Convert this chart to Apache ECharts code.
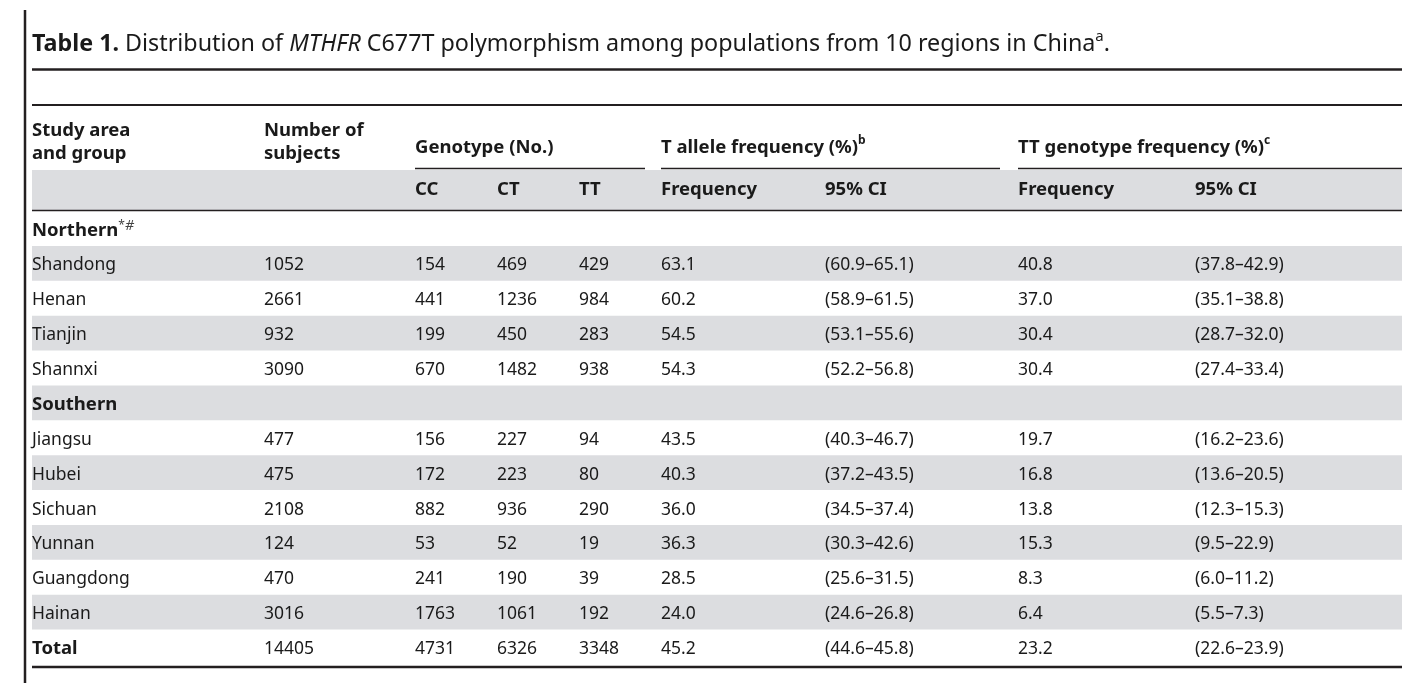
<!DOCTYPE html>
<html>
<head>
<meta charset="utf-8">
<script src="https://cdn.jsdelivr.net/npm/echarts@6/dist/echarts.min.js"></script>
<style>
html, body { margin: 0; padding: 0; background: #fff; }
#main { width: 1423px; height: 683px; }
</style>
</head>
<body>
<div id="main"></div>
<script>
// table data
var regions = ['Northern', 'Shandong', 'Henan', 'Tianjin', 'Shannxi', 'Southern', 'Jiangsu', 'Hubei', 'Sichuan', 'Yunnan', 'Guangdong', 'Hainan', 'Total'];
var subjects = [null, 1052, 2661, 932, 3090, null, 477, 475, 2108, 124, 470, 3016, 14405];
var ccNo = [null, 154, 441, 199, 670, null, 156, 172, 882, 53, 241, 1763, 4731];
var ctNo = [null, 469, 1236, 450, 1482, null, 227, 223, 936, 52, 190, 1061, 6326];
var ttNo = [null, 429, 984, 283, 938, null, 94, 80, 290, 19, 39, 192, 3348];
var tFreq = [null, '63.1', '60.2', '54.5', '54.3', null, '43.5', '40.3', '36.0', '36.3', '28.5', '24.0', '45.2'];
var tCI = [null, '(60.9–65.1)', '(58.9–61.5)', '(53.1–55.6)', '(52.2–56.8)', null, '(40.3–46.7)', '(37.2–43.5)', '(34.5–37.4)', '(30.3–42.6)', '(25.6–31.5)', '(24.6–26.8)', '(44.6–45.8)'];
var ttFreq = [null, '40.8', '37.0', '30.4', '30.4', null, '19.7', '16.8', '13.8', '15.3', '8.3', '6.4', '23.2'];
var ttCI = [null, '(37.8–42.9)', '(35.1–38.8)', '(28.7–32.0)', '(27.4–33.4)', null, '(16.2–23.6)', '(13.6–20.5)', '(12.3–15.3)', '(9.5–22.9)', '(6.0–11.2)', '(5.5–7.3)', '(22.6–23.9)'];
var boldRows = ['Northern', 'Southern', 'Total'];
var subHeads = ['CC', 'CT', 'TT', 'Frequency', '95% CI', 'Frequency', '95% CI'];

var chartDom = document.getElementById('main');
var myChart = echarts.init(chartDom);

var FONT = '"Noto Sans", "Open Sans", sans-serif';
var INK = '#1a1a1a';
var BAND = '#dcdde0';
var colX = [32, 264, 415, 497, 579, 661, 825, 1018, 1195]; // left edge of each column
var tableL = 32, tableR = 1402;
var dy = 2; // nudge so cap height sits on the row centre
var BODY = '17.5px ';
var HEAD = 'bold 18.5px ';

var columns = [subjects, ccNo, ctNo, ttNo, tFreq, tCI, ttFreq, ttCI];

function renderRow(params, api) { //one table row
    var idx = api.value(1);
    var c = api.coord([0, idx]);
    var h = api.size([0, 1])[1];
    var kids = [];
    if (idx % 2 == 1) {
        kids.push({
            type: 'rect',
            shape: { x: tableL, y: c[1] - h / 2, width: tableR - tableL, height: h },
            style: { fill: BAND }
        });
    }
    var name = regions[idx];
    var isBold = boldRows.indexOf(name) >= 0;
    kids.push({
        type: 'text',
        x: colX[0], y: c[1] + dy,
        style: {
            text: name == 'Northern' ? '{b|Northern}{s|*}{h|#}' : name,
            font: (isBold ? HEAD : BODY) + FONT,
            fill: INK, verticalAlign: 'middle',
            rich: {
                b: { fontWeight: 'bold', fontSize: 18.5, fontFamily: FONT, lineHeight: 22 },
                s: { fontSize: 12, fontFamily: FONT, lineHeight: 12, verticalAlign: 'top', fill: '#444' },
                h: { fontSize: 14, fontStyle: 'italic', fontFamily: FONT, lineHeight: 14, verticalAlign: 'top', fill: '#444' }
            }
        }
    });
    for (var j = 0; j < columns.length; j++) {
        var v = columns[j][idx];
        if (v == null) continue;
        kids.push({
            type: 'text',
            x: colX[j + 1], y: c[1] + dy,
            style: { text: String(v), font: BODY + FONT, fill: INK, verticalAlign: 'middle' }
        });
    }
    return { type: 'group', children: kids };
}

function hText(x, y, t, extra) {
    var o = {
        type: 'text', x: x, y: y + dy,
        style: { text: t, font: HEAD + FONT, fill: INK, verticalAlign: 'middle' }
    };
    if (extra) o.style.rich = extra;
    return o;
}
function hLine(x1, x2, y, w) {
    return { type: 'line', shape: { x1: x1, y1: y, x2: x2, y2: y }, style: { stroke: '#231f20', lineWidth: w } };
}

var supRich = {
    m: { fontWeight: 'bold', fontSize: 18.5, fontFamily: FONT, lineHeight: 26 },
    s: { fontWeight: 'bold', fontSize: 12, fontFamily: FONT, lineHeight: 14, verticalAlign: 'top' }
};

var graphics = [
    { type: 'line', shape: { x1: 25, y1: 10, x2: 25, y2: 683 }, style: { stroke: '#231f20', lineWidth: 2.5 } },
    {
        type: 'text', x: 32, y: 42 + dy,
        style: {
            text: '{b|Table 1.} Distribution of {i|MTHFR} C677T polymorphism among populations from 10 regions in China{s|a}.',
            font: '23.3px ' + FONT, fill: INK, verticalAlign: 'middle',
            rich: {
                b: { fontWeight: 'bold', fontSize: 23.3, fontFamily: FONT, lineHeight: 30 },
                i: { fontStyle: 'italic', fontSize: 23.3, fontFamily: FONT, lineHeight: 30 },
                s: { fontSize: 15, fontFamily: FONT, lineHeight: 16, verticalAlign: 'top' }
            }
        }
    },
    hLine(tableL, tableR, 69.5, 2.7),
    hLine(tableL, tableR, 105, 2),
    hText(colX[0], 129, 'Study area'),
    hText(colX[0], 152, 'and group'),
    hText(colX[1], 129, 'Number of'),
    hText(colX[1], 152, 'subjects'),
    hText(colX[2], 146, 'Genotype (No.)'),
    hText(colX[5], 146, '{m|T allele frequency (%)}{s|b}', supRich),
    hText(colX[7], 146, '{m|TT genotype frequency (%)}{s|c}', supRich),
    hLine(415, 645, 168.5, 1.6),
    hLine(661, 1000, 168.5, 1.6),
    hLine(1018, tableR, 168.5, 1.6),
    { type: 'rect', shape: { x: tableL, y: 170, width: tableR - tableL, height: 40 }, style: { fill: BAND }, z: -1 },
    hLine(tableL, tableR, 210.5, 1.6),
    hLine(tableL, tableR, 667, 2.7)
];
for (var k = 0; k < subHeads.length; k++) {
    graphics.push(hText(colX[k + 2], 188, subHeads[k]));
}

var option = {
    animation: false,
    backgroundColor: '#fff',
    grid: { left: 0, right: 0, top: 211, height: 453.5 },
    xAxis: { type: 'value', min: 0, max: 1423, show: false },
    yAxis: { type: 'category', data: regions, inverse: true, show: false },
    graphic: graphics,
    series: [{
        type: 'custom',
        renderItem: renderRow,
        clip: false,
        data: regions.map(function(r, i) { return [0, i]; })
    }]
};
option && myChart.setOption(option);
</script>
</body>
</html>
